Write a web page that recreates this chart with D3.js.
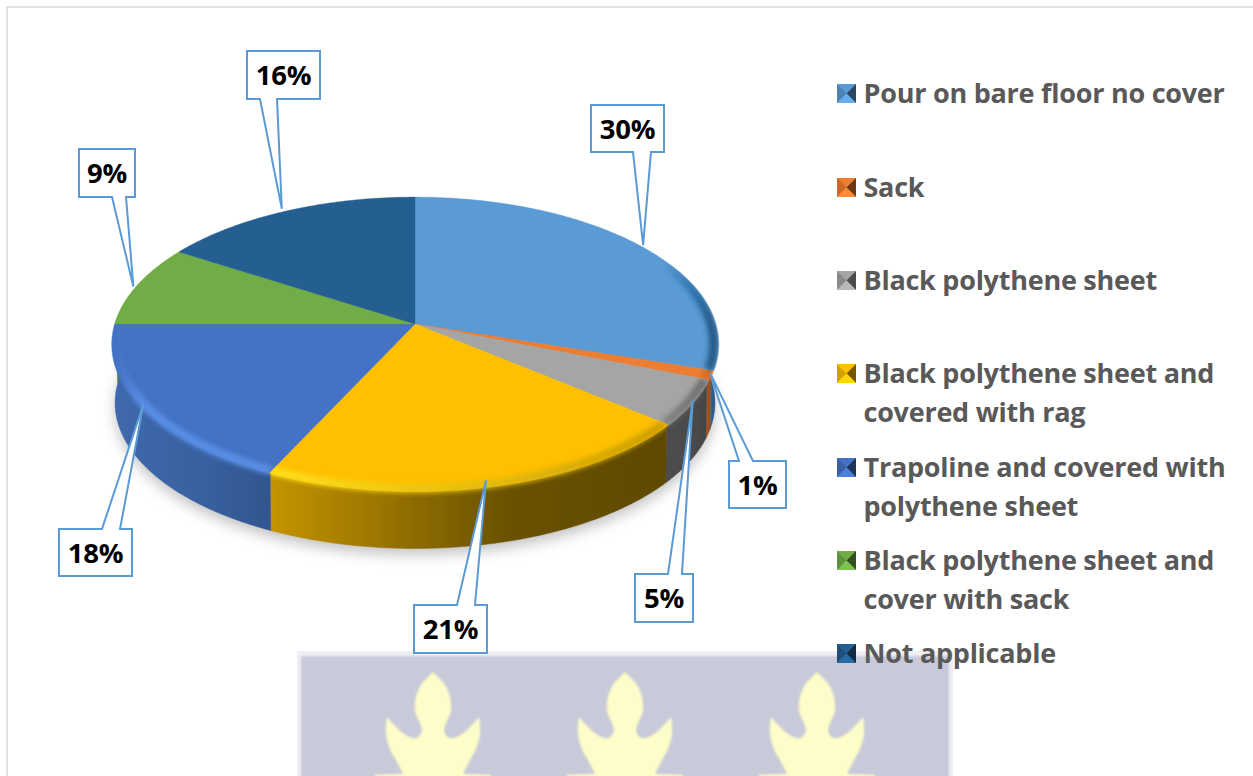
<!DOCTYPE html>
<html><head><meta charset="utf-8">
<script src="https://cdn.jsdelivr.net/npm/d3@7"></script>
<style>html,body{margin:0;padding:0;background:#fff}svg{display:block}
text{font-family:"Open Sans",sans-serif;font-weight:700}</style></head>
<body><svg id="c" width="1253" height="776"></svg>
<script>
const categories=["Pour on bare floor no cover","Sack","Black polythene sheet","Black polythene sheet and covered with rag","Trapoline and covered with polythene sheet","Black polythene sheet and cover with sack","Not applicable"];
const values=[30,1,5,21,18,9,16];
const colors=["#5b9bd5","#ed7d31","#a5a5a5","#ffc000","#4472c4","#70ad47","#255e91"];
const sideLeft=["#2f6a9e","#a8551f","#4c4c4c","#c49400","#3f69ad","#4f7d33","#1c4668"];
const sideMid=["#2d6496","#9a501e","#4a4a4a","#6a5100","#37609f","#4f7d33","#1c4668"];
const sideRight=["#264f78","#8a4a1c","#454545","#5f4900","#32558e","#4f7d33","#1c4668"];
const rimLeft=["#2a6fa8","#d0691f","#7c7c7c","#ffe01e","#5a90e6","#70ad47","#255e91"];
const rimRight=["#24557f","#c4601c","#666666","#c99c00","#5a90e6","#70ad47","#255e91"];
const rimOp=[.95,.7,.85,.95,.95,0,0];
const rimFadeStart=[.65,0,0,0,.16,0,0];
const legendLines=[["Pour on bare floor no cover"],["Sack"],["Black polythene sheet"],["Black polythene sheet and","covered with rag"],["Trapoline and covered with","polythene sheet"],["Black polythene sheet and","cover with sack"],["Not applicable"]];
const legendBaselines=[[103],[197],[290],[383,422],[477,516],[570,609],[663]];
const labelBoxes=[[591,105,73,47],[729,461,57,47],[635,574,58,48],[414,605,73,48],[59,529,73,47],[79,149,56,48],[247,51,73,48]];
const labelBases=[[633,651],[739,753],[668,682],[457,475],[102,120],[112,126],[260,277]];
const tipNudge=[[5,-1],[1,-2],[2,-2],[-4,-5],[0,-3],[-6,1],[-5,-3]];

const svg=d3.select("#c"),defs=svg.append("defs");
const cx=415,cy=324,A=298,B=143.3,k=0.137,depth=59,wallR=.997,faceR=1.008;
const proj=(a,r=1,dy=0)=>{const u=r*Math.sin(a),v=-r*Math.cos(a),d=1-k*v;return [cx+A*u/d,cy+B*v/d+dy];};
const arcPts=(a0,a1,r=1,dy=0)=>{const n=Math.max(2,Math.ceil((a1-a0)/0.01));return d3.range(n+1).map(i=>proj(a0+(a1-a0)*i/n,r,dy));};
const line=d3.line();
const pie=d3.pie().sort(null).value(d=>d)(values);

svg.append("rect").attr("x",7).attr("y",7).attr("width",1260).attr("height",800).attr("fill","#fff").attr("stroke","#d9d9d9").attr("stroke-width",1.5);

// watermark
const wm=svg.append("g");
defs.append("filter").attr("id","soft").attr("x","-5%").attr("y","-5%").attr("width","110%").attr("height","110%").append("feGaussianBlur").attr("stdDeviation",1.3);
wm.append("rect").attr("x",297).attr("y",651).attr("width",656).attr("height",140).attr("fill","#efeff3");
wm.append("rect").attr("x",301).attr("y",656).attr("width",648).attr("height",130).attr("fill","#c9cad9").attr("filter","url(#soft)");
const half="L10,10 C16,18 19,28 18,38 C17,46 12,50 11,58 C12,64 16,67 20,66 C30,64 38,54 46,45 C49,60 46,75 38,86 L30,102 L58,103 L58,112 L-58,112 L-58,103 L-30,102 L-38,86 C-46,75 -49,60 -46,45 C-38,54 -30,64 -20,66 C-16,67 -12,64 -11,58 C-12,50 -17,46 -18,38 C-19,28 -16,18 -10,10 Z";
[433,625,817].forEach(x=>{
 wm.append("path").attr("transform",`translate(${x},672)`).attr("fill","#fdfdc9").attr("filter","url(#soft)").attr("d","M0,0 "+half);
});

// shadow
defs.append("filter").attr("id","shadow").attr("x","-10%").attr("y","-20%").attr("width","120%").attr("height","140%").append("feGaussianBlur").attr("stdDeviation",7);
svg.append("path").attr("d",line(arcPts(0,2*Math.PI,wallR,depth+6))+"Z").attr("fill","#8f8f8f").attr("opacity",.55).attr("filter","url(#shadow)");

// walls
const walls=[];
pie.forEach((p,i)=>{
  const lo=Math.max(p.startAngle,Math.PI/2-0.14),hi=Math.min(p.endAngle,3*Math.PI/2+0.14);
  if(hi<=lo){walls.push(null);return;}
  const top=arcPts(lo,hi),bot=arcPts(lo,hi,wallR,depth).reverse();
  const xs=top.map(d=>d[0]);
  const g=defs.append("linearGradient").attr("id","side"+i).attr("gradientUnits","userSpaceOnUse")
    .attr("x1",d3.min(xs)).attr("x2",d3.max(xs)).attr("y1",0).attr("y2",0);
  g.append("stop").attr("offset",0).attr("stop-color",sideLeft[i]);
  g.append("stop").attr("offset",.6).attr("stop-color",sideMid[i]);
  g.append("stop").attr("offset",1).attr("stop-color",sideRight[i]);
  const wd=line(top.concat(bot))+"Z";
  walls.push(wd);
  svg.append("path").attr("d",wd).attr("fill",`url(#side${i})`).attr("stroke",`url(#side${i})`).attr("stroke-width",.5);
});

// faces + soft rim
defs.append("filter").attr("id","rimblur").attr("filterUnits","userSpaceOnUse").attr("x",0).attr("y",0).attr("width",1253).attr("height",776).append("feGaussianBlur").attr("stdDeviation",2.6);
pie.forEach((p,i)=>{
  const d=line([proj(0,0)].concat(arcPts(p.startAngle,p.endAngle,faceR)))+"Z";
  svg.append("path").attr("d",d).attr("fill",colors[i]).attr("stroke",colors[i]).attr("stroke-width",.4);
});
pie.forEach((p,i)=>{
  if(!rimOp[i]) return;
  const d=line([proj(0,0)].concat(arcPts(p.startAngle,p.endAngle,1.012)))+"Z";
  const cp=defs.append("clipPath").attr("id","clip"+i);
  cp.append("path").attr("d",d);
  if(walls[i]) cp.append("path").attr("d",walls[i]);
  const lo=Math.max(p.startAngle,1.1),hi=p.endAngle;
  const pts=arcPts(lo,hi,.992),xs=pts.map(q=>q[0]);
  const g=defs.append("linearGradient").attr("id","rim"+i).attr("gradientUnits","userSpaceOnUse")
    .attr("x1",d3.min(xs)).attr("x2",d3.max(xs)+.1).attr("y1",0).attr("y2",0);
  if(rimFadeStart[i]){
    g.append("stop").attr("offset",0).attr("stop-color",rimLeft[i]).attr("stop-opacity",0);
    g.append("stop").attr("offset",rimFadeStart[i]).attr("stop-color",rimLeft[i]).attr("stop-opacity",1);
  } else g.append("stop").attr("offset",0).attr("stop-color",rimLeft[i]);
  g.append("stop").attr("offset",1).attr("stop-color",rimRight[i]);
  svg.append("g").attr("clip-path",`url(#clip${i})`).append("path").attr("d",line(pts))
    .attr("fill","none").attr("stroke",`url(#rim${i})`).attr("stroke-width",9).attr("opacity",rimOp[i]).attr("filter","url(#rimblur)");
});

// callouts
pie.forEach((p,i)=>{
  const [x,y,w,h]=labelBoxes[i],[b0,b1]=labelBases[i];
  const t0=proj((p.startAngle+p.endAngle)/2),tip=[t0[0]+tipNudge[i][0],t0[1]+tipNudge[i][1]];
  const up=y>tip[1];
  const pts=up?[[x,y],[b0,y],tip,[b1,y],[x+w,y],[x+w,y+h],[x,y+h]]:[[x,y],[x+w,y],[x+w,y+h],[b1,y+h],tip,[b0,y+h],[x,y+h]];
  svg.append("path").attr("d",line(pts)+"Z").attr("fill","#fff").attr("stroke","#5b9bd5").attr("stroke-width",2);
  svg.append("text").attr("x",x+w/2).attr("y",y+h/2+10).attr("text-anchor","middle").attr("font-size",27.5).attr("letter-spacing","-0.2").attr("fill","#000").text(p.value+"%");
});

// legend
categories.forEach((c,i)=>{
  const by=legendBaselines[i][0],s=19,x=837,y=by-19;
  const col=d3.color(colors[i]);
  const sq=svg.append("g");
  sq.append("rect").attr("x",x).attr("y",y).attr("width",s).attr("height",s).attr("fill",colors[i]);
  sq.append("path").attr("d",line([[x,y],[x+s/2,y+s/2],[x,y+s]])+"Z").attr("fill",col.darker(.5));
  sq.append("path").attr("d",line([[x+s,y],[x+s/2,y+s/2],[x+s,y+s]])+"Z").attr("fill",col.darker(2.2));
  sq.append("path").attr("d",line([[x,y+s],[x+s/2,y+s/2],[x+s,y+s]])+"Z").attr("fill",col.brighter(.3));
  legendLines[i].forEach((t,j)=>{
    svg.append("text").attr("x",863.5).attr("y",legendBaselines[i][j]).attr("font-size",27).attr("letter-spacing","-0.25").attr("fill","#595959").text(t);
  });
});
</script></body></html>
